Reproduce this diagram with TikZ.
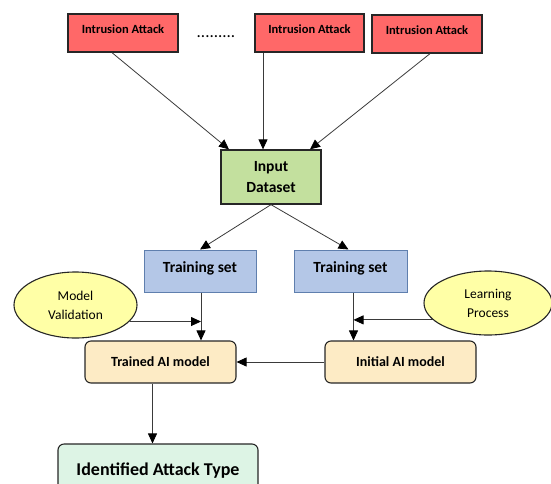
\documentclass[tikz,border=0pt]{standalone}
\usepackage{fontspec}
\setmainfont{Carlito}
\usetikzlibrary{arrows.meta,shapes.geometric}

\definecolor{attackred}{HTML}{FF6868}
\definecolor{datagreen}{HTML}{C3E09E}
\definecolor{trainblue}{HTML}{B4C7E7}
\definecolor{trainedge}{HTML}{5F7FAE}
\definecolor{modeltan}{HTML}{FDEBC5}
\definecolor{ovalyellow}{HTML}{FFFFA6}
\definecolor{resultmint}{HTML}{DDF4E5}
\definecolor{linegray}{HTML}{3A3A3A}

\tikzset{
  attackbox/.style={draw=black!85, line width=1.3pt, fill=attackred, minimum width=110pt, minimum height=38pt,
    font=\fontsize{12.5}{14}\selectfont\bfseries, text height=8pt, text depth=7pt},
  databox/.style={draw=black!85, line width=1.3pt, fill=datagreen, minimum width=100pt, minimum height=54pt,
    font=\fontsize{15.5}{21}\selectfont\bfseries, align=center},
  trainbox/.style={draw=trainedge, line width=1pt, fill=trainblue, minimum width=112pt, minimum height=42pt,
    font=\fontsize{15.5}{18}\selectfont\bfseries, text height=10pt, text depth=7pt},
  modelbox/.style={draw=black!85, line width=1.1pt, fill=modeltan, rounded corners=6pt, minimum width=151pt,
    minimum height=42pt, font=\fontsize{14}{16}\selectfont\bfseries},
  oval/.style={ellipse, draw=black!85, line width=1.1pt, fill=ovalyellow, inner sep=0pt,
    font=\fontsize{13.5}{19}\selectfont, align=center},
  resultbox/.style={draw=black!85, line width=1.1pt, fill=resultmint, rounded corners=6pt, minimum width=200pt,
    minimum height=54pt, font=\fontsize{18}{20}\selectfont\bfseries},
  arr/.style={draw=linegray, line width=0.8pt, -{Triangle[length=10pt,width=9pt,color=black]}}
}

\begin{document}
\begin{tikzpicture}[x=1pt, y=-1pt]
  \useasboundingbox (0,0) rectangle (551,483);
  \clip (0,0) rectangle (551,483);

  % attacks
  \node [attackbox] (atk1) at (123,33) {Intrusion Attack};
  \node [attackbox, minimum width=109pt] (atk2) at (309.5,33) {Intrusion Attack};
  \node [attackbox] (atk3) at (427,34) {Intrusion Attack};
  \node [font=\fontsize{17}{17}\selectfont, inner sep=0pt] (dots) at (216,37) {.........};

  % dataset and training sets
  \node [databox] (data) at (271,177) {Input\\Dataset};
  \node [trainbox] (train1) at (200,271) {Training set};
  \node [trainbox, minimum width=113pt] (train2) at (350.5,271) {Training set};

  % ovals
  \node [oval, minimum width=123pt, minimum height=66pt] (valid) at (75.5,305) {Model\\Validation};
  \node [oval, minimum width=128pt, minimum height=64pt] (learn) at (488,303) {Learning\\Process};

  % models
  \node [modelbox] (trained) at (160.5,362) {Trained AI model};
  \node [modelbox] (initial) at (400.5,362) {Initial AI model};
  \node [resultbox] (result) at (158,471) {Identified Attack Type};

  % connectors
  \draw [arr] ([xshift=-11pt]atk1.south) -- ([xshift=-42pt]data.north);
  \draw [arr] ([xshift=-46.5pt]atk2.south) -- ([xshift=-8pt]data.north);
  \draw [arr] ([xshift=3pt]atk3.south) -- ([xshift=39pt]data.north);
  \draw [arr] (data.south) -- (train1.north);
  \draw [arr] (data.south) -- ([xshift=-2pt]train2.north);
  \draw [arr] ([xshift=1pt]train1.south) -- ([xshift=1pt]train1.south |- trained.north);
  \draw [arr] ([xshift=3pt]train2.south) -- ([xshift=3pt]train2.south |- initial.north);
  \draw [arr] (valid.-17) -- ([xshift=1pt]valid.-17 -| train1.south);
  \draw [arr] (learn.197) -- ([xshift=3pt]learn.197 -| train2.south);
  \draw [arr] (initial.west) -- (trained.east);
  \draw [arr] ([xshift=-8pt]trained.south) -- ([xshift=-8pt]trained.south |- result.north);
\end{tikzpicture}
\end{document}
